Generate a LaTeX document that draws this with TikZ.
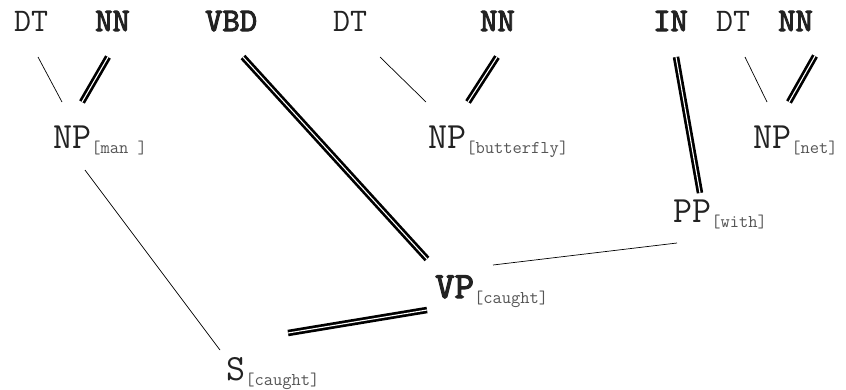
\documentclass[tikz,border=0pt]{standalone}
\usepackage{fontspec}
\newfontfamily\bmono{lmmono10-regular.otf}[FakeBold=3]
\definecolor{txt}{HTML}{222222}
\definecolor{subc}{HTML}{555555}
\newcommand{\lbl}[2]{#1\raisebox{-5pt}{\fontsize{18}{18}\selectfont\ttfamily\color{subc}[#2]}}
\tikzset{
  word/.style={anchor=base west, inner sep=0pt, font=\fontsize{33}{33}\selectfont\ttfamily, text=txt},
  cat/.style={anchor=base west, inner sep=0pt, font=\fontsize{37}{37}\selectfont\ttfamily, text=txt},
  thinl/.style={line width=0.7pt, black},
  headl/.style={double=white, draw=black, line width=2.7pt, double distance=1.1pt},
}
\begin{document}
\begin{tikzpicture}[x=1pt,y=-1pt]
\useasboundingbox (0,0) rectangle (846,389);
% top words
\node[word] (dt1) at (14,31) {DT};
\node[word] (nn1) at (95,31) {\bmono NN};
\node[word] (vbd) at (205,31) {\bmono VBD};
\node[word] (dt2) at (333,31) {DT};
\node[word] (nn2) at (480,31) {\bmono NN};
\node[word] (in) at (653,31) {\bmono IN};
\node[word] (dt3) at (716,31) {DT};
\node[word] (nn3) at (778,31) {\bmono NN};
% phrase nodes
\node[cat] (npman) at (53,148) {\lbl{NP}{man }};
\node[cat] (npbut) at (428,148) {\lbl{NP}{butterfly}};
\node[cat] (npnet) at (753,148) {\lbl{NP}{net}};
\node[cat] (pp) at (673,222) {\lbl{PP}{with}};
\node[cat] (vp) at (435,298) {\lbl{{\bmono VP}}{caught}};
\node[cat] (s) at (226,380) {\lbl{S}{caught}};
% connector ends
\coordinate (c1a) at (38,57);  \coordinate (c1b) at (62,102);
\coordinate (c2a) at (108,57); \coordinate (c2b) at (82,102);
\coordinate (c3a) at (243,57); \coordinate (c3b) at (427,259);
\coordinate (c4a) at (380,57); \coordinate (c4b) at (426,102);
\coordinate (c5a) at (497,57); \coordinate (c5b) at (468,102);
\coordinate (c6a) at (676,57); \coordinate (c6b) at (700,193);
\coordinate (c7a) at (745,57); \coordinate (c7b) at (767,102);
\coordinate (c8a) at (815,56); \coordinate (c8b) at (789,102);
\coordinate (c9a) at (677,243); \coordinate (c9b) at (493,265);
\coordinate (c10a) at (427,310); \coordinate (c10b) at (288,333);
\coordinate (c11a) at (85,170); \coordinate (c11b) at (220,350);
\draw[thinl] (c1a) -- (c1b);
\draw[headl] (c2a) -- (c2b);
\draw[headl] (c3a) -- (c3b);
\draw[thinl] (c4a) -- (c4b);
\draw[headl] (c5a) -- (c5b);
\draw[headl] (c6a) -- (c6b);
\draw[thinl] (c7a) -- (c7b);
\draw[headl] (c8a) -- (c8b);
\draw[thinl] (c9a) -- (c9b);
\draw[headl] (c10a) -- (c10b);
\draw[thinl] (c11a) -- (c11b);
\end{tikzpicture}
\end{document}
